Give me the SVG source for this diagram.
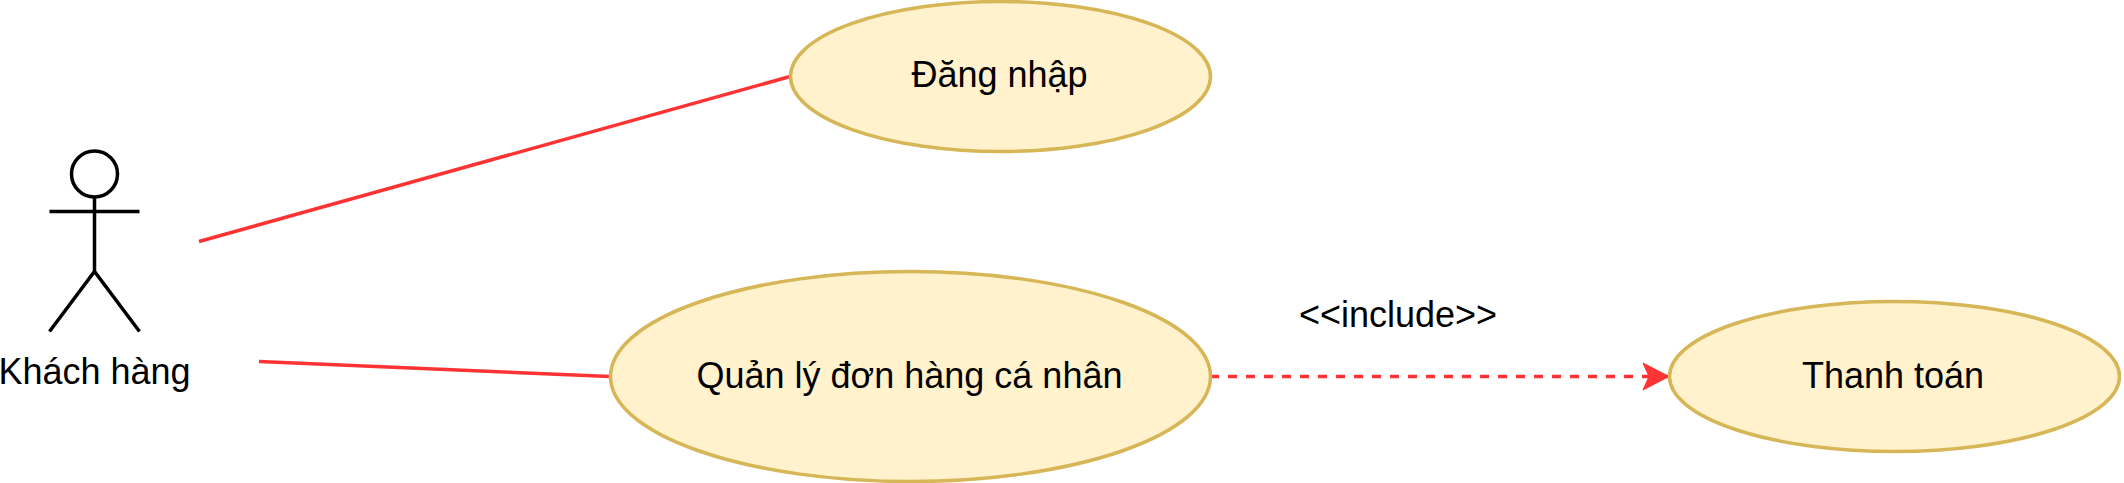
<svg xmlns="http://www.w3.org/2000/svg" width="2124" height="483" viewBox="0 0 2124 483">
<defs><marker id="arr" markerUnits="userSpaceOnUse" markerWidth="30" markerHeight="32" refX="28" refY="16" orient="auto"><path d="M2 2.500L28 16L2 29.500L8 16Z" fill="#ff3333" stroke="#ff3333" stroke-width="1"/></marker></defs>
<style>
text{font-family:"Liberation Sans",Arial,sans-serif;font-size:36px;fill:#000;text-anchor:middle}
.uc{fill:#fff2cc;stroke:#d6b656;stroke-width:3.500}
.c{fill:none;stroke:#ff3333;stroke-width:3.500}
.a{fill:none;stroke:#000;stroke-width:3.500}
</style>
<rect width="2124" height="483" fill="#fff"/>
<g id="connectors">
<path class="c" d="M199 241.500L790 76.500"/>
<path class="c" d="M259 361.500L610 376.500"/>
<path class="c" d="M1210 376.500L1669 376.500" stroke-dasharray="9 9" marker-end="url(#arr)"/>
</g>
<g id="actor"><circle class="a" cx="94.500" cy="174" r="23"/><path class="a" d="M94.500 197V271.500M49.500 211.500H139.500M49.500 331.500L94.500 271.500L139.500 331.500"/><text x="94.500" y="384">Khách hàng</text></g>
<g id="dangnhap"><ellipse class="uc" cx="1000.500" cy="76.500" rx="210" ry="75"/><text x="999.500" y="87">Đăng nhập</text></g>
<g id="quanly"><ellipse class="uc" cx="910.500" cy="376.500" rx="300" ry="105"/><text x="909.500" y="388">Quản lý đơn hàng cá nhân</text></g>
<g id="thanhtoan"><ellipse class="uc" cx="1894.500" cy="376.500" rx="225" ry="75"/><text x="1893" y="388">Thanh toán</text></g>
<text id="include" x="1398" y="327">&lt;&lt;include&gt;&gt;</text>
</svg>
